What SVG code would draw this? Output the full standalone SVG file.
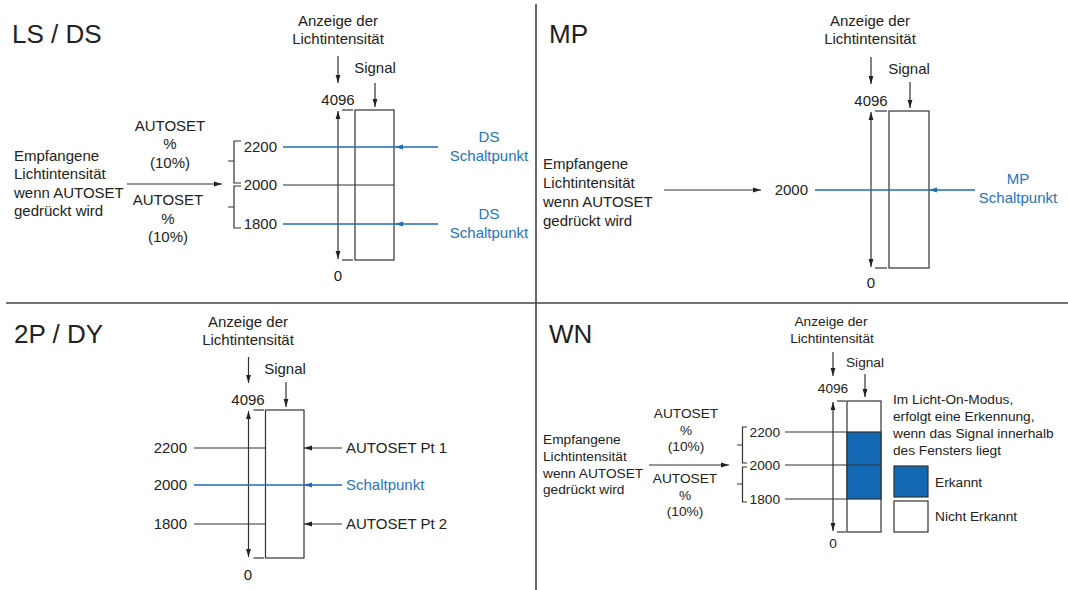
<svg xmlns="http://www.w3.org/2000/svg" width="1068" height="590" viewBox="0 0 1068 590">
<style>
text{font-family:"Liberation Sans",Arial,sans-serif;fill:#222}
.t{font-size:26px}
.a{font-size:15px}
.s{font-size:13.7px}
.m{text-anchor:middle}
.e{text-anchor:end}
.b{fill:#2474c0}
.ln{stroke:#333;stroke-width:1.2;fill:none}
.bl{stroke:#1f6db8;stroke-width:1.3;fill:none}
.bx{stroke:#333;stroke-width:1.2;fill:#fff}
.div{stroke:#444;stroke-width:1.6}
</style>
<defs>
<marker id="ah" viewBox="0 0 10 10" refX="10" refY="5" markerWidth="8" markerHeight="8" markerUnits="userSpaceOnUse" orient="auto-start-reverse"><path d="M0,2 L10,5 L0,8 z" fill="#222"/></marker>
<marker id="ahb" viewBox="0 0 10 10" refX="10" refY="5" markerWidth="8" markerHeight="8" markerUnits="userSpaceOnUse" orient="auto-start-reverse"><path d="M0,2 L10,5 L0,8 z" fill="#1f6db8"/></marker>
</defs>
<rect width="1068" height="590" fill="#fff"/>
<g id="dividers">
<line class="div" x1="536" y1="4" x2="536" y2="590"/>
<line class="div" x1="6" y1="303" x2="1068" y2="303"/>
</g>

<!-- Panel LS / DS -->
<g id="panel-lsds">
<text class="t" x="12" y="43">LS / DS</text>
<text class="a m" x="338" y="26">Anzeige der</text>
<text class="a m" x="338" y="44">Lichtintensität</text>
<text class="a m" x="375" y="73">Signal</text>
<text class="a m" x="338" y="105">4096</text>
<text class="a m" x="338" y="281">0</text>
<rect class="bx" x="355" y="110" width="39" height="150"/>
<text class="a e" x="277" y="152">2200</text>
<text class="a e" x="277" y="190">2000</text>
<text class="a e" x="277" y="229">1800</text>
<text class="a m b" x="489" y="142">DS</text>
<text class="a m b" x="489" y="161">Schaltpunkt</text>
<text class="a m b" x="489" y="219">DS</text>
<text class="a m b" x="489" y="238">Schaltpunkt</text>
<text class="a" x="14" y="161">Empfangene</text>
<text class="a" x="14" y="179">Lichtintensität</text>
<text class="a" x="14" y="198">wenn AUTOSET</text>
<text class="a" x="14" y="216">gedrückt wird</text>
<text class="a m" x="170" y="131">AUTOSET</text>
<text class="a m" x="170" y="149">%</text>
<text class="a m" x="170" y="168">(10%)</text>
<text class="a m" x="168" y="205">AUTOSET</text>
<text class="a m" x="168" y="224">%</text>
<text class="a m" x="168" y="242">(10%)</text>
</g>

<!-- Panel MP -->
<g id="panel-mp">
<text class="t" x="549" y="43">MP</text>
<text class="a m" x="870" y="26">Anzeige der</text>
<text class="a m" x="870" y="44">Lichtintensität</text>
<text class="a m" x="909" y="74">Signal</text>
<text class="a m" x="871" y="106">4096</text>
<text class="a m" x="871" y="288">0</text>
<rect class="bx" x="889" y="111" width="40" height="157"/>
<text class="a e" x="808" y="195">2000</text>
<text class="a m b" x="1018" y="184">MP</text>
<text class="a m b" x="1018" y="203">Schaltpunkt</text>
<text class="a" x="543" y="169">Empfangene</text>
<text class="a" x="543" y="188">Lichtintensität</text>
<text class="a" x="543" y="207">wenn AUTOSET</text>
<text class="a" x="543" y="226">gedrückt wird</text>
</g>

<!-- Panel 2P / DY -->
<g id="panel-2pdy">
<text class="t" x="14" y="343">2P / DY</text>
<text class="a m" x="248" y="327">Anzeige der</text>
<text class="a m" x="248" y="345">Lichtintensität</text>
<text class="a m" x="285" y="374">Signal</text>
<text class="a m" x="248" y="405">4096</text>
<text class="a m" x="248" y="580">0</text>
<rect class="bx" x="265.5" y="410" width="38.5" height="148"/>
<text class="a e" x="187" y="453">2200</text>
<text class="a e" x="187" y="490">2000</text>
<text class="a e" x="187" y="529">1800</text>
<text class="a" x="346" y="453">AUTOSET Pt 1</text>
<text class="a b" x="346" y="490">Schaltpunkt</text>
<text class="a" x="346" y="529">AUTOSET Pt 2</text>
</g>

<!-- Panel WN -->
<g id="panel-wn">
<text class="t" x="549" y="343">WN</text>
<text class="s m" x="831" y="326">Anzeige der</text>
<text class="s m" x="832" y="343">Lichtintensität</text>
<text class="s m" x="865" y="367">Signal</text>
<text class="s m" x="833" y="393">4096</text>
<text class="s m" x="833" y="548">0</text>
<rect class="bx" x="847" y="401" width="34" height="131"/>
<rect x="847" y="432" width="34" height="67" fill="#1268b3" stroke="#333" stroke-width="1.2"/>
<text class="s e" x="780" y="437">2200</text>
<text class="s e" x="780" y="470">2000</text>
<text class="s e" x="780" y="504">1800</text>
<text class="s" x="543" y="444">Empfangene</text>
<text class="s" x="543" y="461">Lichtintensität</text>
<text class="s" x="543" y="478">wenn AUTOSET</text>
<text class="s" x="543" y="494">gedrückt wird</text>
<text class="s m" x="686" y="418">AUTOSET</text>
<text class="s m" x="686" y="435">%</text>
<text class="s m" x="686" y="451">(10%)</text>
<text class="s m" x="685" y="483">AUTOSET</text>
<text class="s m" x="685" y="500">%</text>
<text class="s m" x="685" y="516">(10%)</text>
<text class="s" x="893" y="404">Im Licht-On-Modus,</text>
<text class="s" x="893" y="421">erfolgt eine Erkennung,</text>
<text class="s" x="893" y="438">wenn das Signal innerhalb</text>
<text class="s" x="893" y="455">des Fensters liegt</text>
<rect x="894" y="466" width="34" height="31" fill="#1268b3" stroke="#333" stroke-width="1.2"/>
<rect class="bx" x="894" y="501" width="34" height="31"/>
<text class="s" x="935" y="487">Erkannt</text>
<text class="s" x="935" y="521">Nicht Erkannt</text>
</g>

<g id="connectors">
<!-- LS/DS -->
<line class="ln" x1="338" y1="56" x2="338" y2="83" marker-end="url(#ah)"/>
<line class="ln" x1="375" y1="83" x2="375" y2="107" marker-end="url(#ah)"/>
<line class="ln" x1="338" y1="111" x2="338" y2="259" marker-start="url(#ah)" marker-end="url(#ah)"/>
<line class="ln" x1="342" y1="110" x2="353" y2="110"/>
<line class="ln" x1="342" y1="260" x2="353" y2="260"/>
<line class="bl" x1="283" y1="147" x2="395" y2="147"/>
<line class="bl" x1="438" y1="147" x2="395" y2="147" marker-end="url(#ahb)"/>
<line class="ln" x1="283" y1="185" x2="394" y2="185"/>
<line class="bl" x1="283" y1="224" x2="395" y2="224"/>
<line class="bl" x1="438" y1="224" x2="395" y2="224" marker-end="url(#ahb)"/>
<path class="ln" d="M241,141 H234 V183 H241 M228,161 H234"/>
<path class="ln" d="M241,186 H234 V228 H241 M228,207 H234"/>
<line class="ln" x1="127" y1="184" x2="222" y2="184" marker-end="url(#ah)"/>
<!-- MP -->
<line class="ln" x1="871" y1="57" x2="871" y2="84" marker-end="url(#ah)"/>
<line class="ln" x1="910" y1="82" x2="910" y2="108" marker-end="url(#ah)"/>
<line class="ln" x1="871" y1="112" x2="871" y2="267" marker-start="url(#ah)" marker-end="url(#ah)"/>
<line class="ln" x1="875" y1="111" x2="887" y2="111"/>
<line class="ln" x1="875" y1="268" x2="887" y2="268"/>
<line class="bl" x1="815" y1="190" x2="929" y2="190"/>
<line class="bl" x1="975" y1="190" x2="929" y2="190" marker-end="url(#ahb)"/>
<line class="ln" x1="664" y1="190" x2="761" y2="190" marker-end="url(#ah)"/>
<!-- 2P/DY -->
<line class="ln" x1="248.5" y1="357" x2="248.5" y2="383" marker-end="url(#ah)"/>
<line class="ln" x1="286" y1="382" x2="286" y2="407" marker-end="url(#ah)"/>
<line class="ln" x1="248.5" y1="411" x2="248.5" y2="557" marker-start="url(#ah)" marker-end="url(#ah)"/>
<line class="ln" x1="253.5" y1="410" x2="264" y2="410"/>
<line class="ln" x1="253.5" y1="558" x2="264" y2="558"/>
<line class="ln" x1="194" y1="448" x2="265.5" y2="448"/>
<line class="ln" x1="342" y1="448" x2="304" y2="448" marker-end="url(#ah)"/>
<line class="bl" x1="194" y1="485" x2="304" y2="485"/>
<line class="bl" x1="342" y1="485" x2="304" y2="485" marker-end="url(#ahb)"/>
<line class="ln" x1="194" y1="524" x2="265.5" y2="524"/>
<line class="ln" x1="342" y1="524" x2="304" y2="524" marker-end="url(#ah)"/>
<!-- WN -->
<line class="ln" x1="833" y1="352" x2="833" y2="376" marker-end="url(#ah)"/>
<line class="ln" x1="865" y1="374" x2="865" y2="397" marker-end="url(#ah)"/>
<line class="ln" x1="833" y1="402" x2="833" y2="531" marker-start="url(#ah)" marker-end="url(#ah)"/>
<line class="ln" x1="837" y1="401" x2="846" y2="401"/>
<line class="ln" x1="837" y1="532" x2="846" y2="532"/>
<line class="ln" x1="785" y1="432" x2="847" y2="432"/>
<line class="ln" x1="785" y1="465" x2="881" y2="465"/>
<line class="ln" x1="785" y1="499" x2="847" y2="499"/>
<path class="ln" d="M747,427 H742.5 V463 H747 M737,445 H742.5"/>
<path class="ln" d="M747,467 H742.5 V502 H747 M737,484 H742.5"/>
<line class="ln" x1="649" y1="465" x2="729" y2="465" marker-end="url(#ah)"/>
</g>
</svg>
